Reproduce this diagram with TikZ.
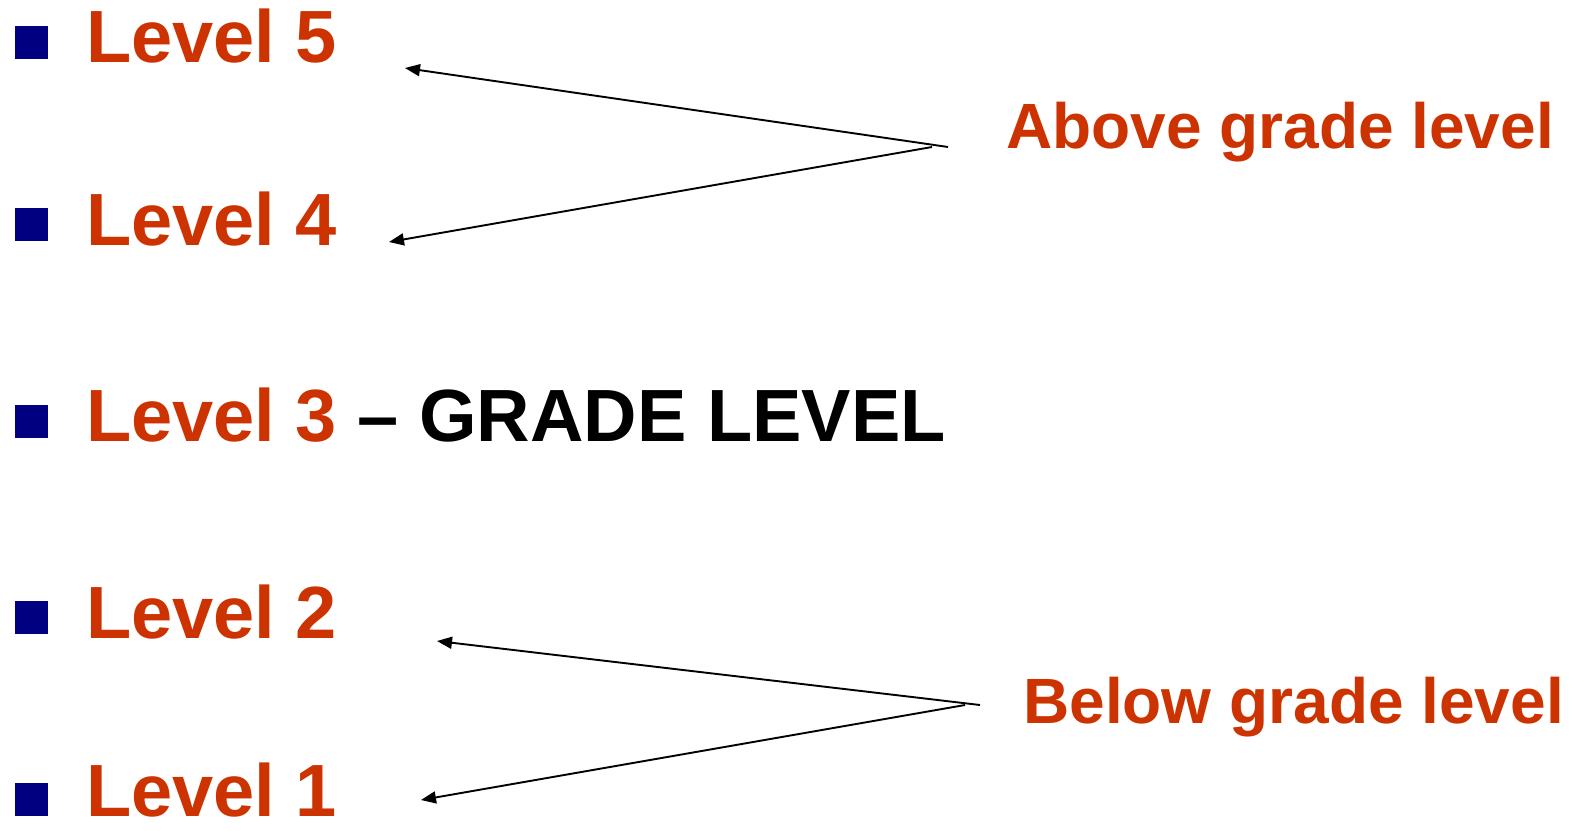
\documentclass[tikz,border=0pt]{standalone}
\usepackage{fontspec}
\setmainfont{Liberation Sans}
\usetikzlibrary{arrows.meta}
\definecolor{lvlred}{HTML}{CC3300}
\definecolor{bulletblue}{HTML}{000080}
\tikzset{
  bulletbox/.style={fill=bulletblue, draw=none, minimum size=33pt, inner sep=0pt, anchor=north west},
  leveltext/.style={anchor=base west, inner sep=0pt, text=lvlred, font=\fontsize{74}{80}\selectfont\bfseries},
  sidelabel/.style={anchor=base west, inner sep=0pt, text=lvlred, font=\fontsize{64}{70}\selectfont\bfseries},
  pointer/.style={line width=1.9pt, -{Triangle[length=15pt,width=12pt]}}
}
\begin{document}
\begin{tikzpicture}[x=1pt,y=-1pt]
\useasboundingbox (0,0) rectangle (1574,830);
% bullets
\node[bulletbox] (b5) at (15,26) {};
\node[bulletbox] (b4) at (15,208) {};
\node[bulletbox] (b3) at (15,405) {};
\node[bulletbox] (b2) at (15,601) {};
\node[bulletbox] (b1) at (15,783) {};
% level texts
\node[leveltext] (l5) at (86,62) {Level 5};
\node[leveltext] (l4) at (86,245) {Level 4};
\node[leveltext] (l3) at (86,441) {Level 3~\textcolor{black}{–~GRADE LEVEL}};
\node[leveltext] (l2) at (86,638) {Level 2};
\node[leveltext] (l1) at (86,816) {Level 1};
% side labels
\node[sidelabel] (above) at (1006,148) {Above grade level};
\node[sidelabel] (below) at (1023,723) {Below grade level};
% arrow anchors
\coordinate (a1) at (948,147);
\coordinate (a2) at (932,147);
\coordinate (t5) at (405,68);
\coordinate (t4) at (389,242);
\coordinate (c1) at (980,705);
\coordinate (c2) at (965,705);
\coordinate (t2) at (437,641);
\coordinate (t1) at (421,800);
\draw[pointer] (a1) -- (t5);
\draw[pointer] (a2) -- (t4);
\draw[pointer] (c1) -- (t2);
\draw[pointer] (c2) -- (t1);
\end{tikzpicture}
\end{document}
